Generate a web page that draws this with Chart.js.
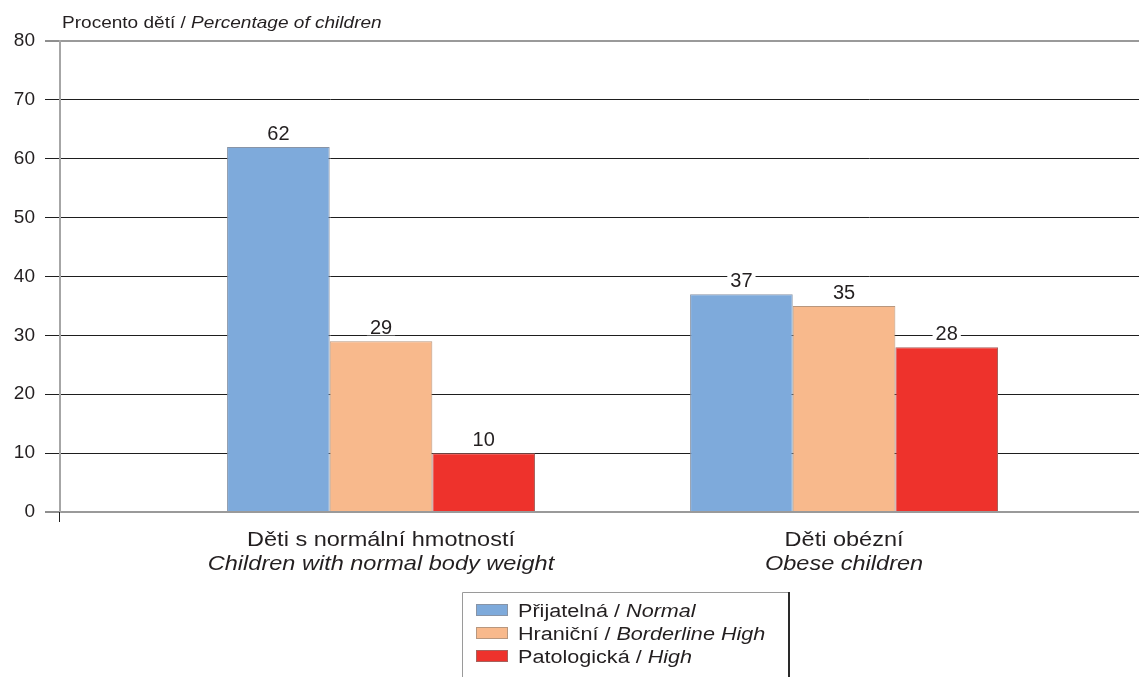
<!DOCTYPE html>
<html>
<head>
<meta charset="utf-8">
<script src="https://cdn.jsdelivr.net/npm/chart.js@4.4.1/dist/chart.umd.min.js"></script>
<style>
  html, body { margin: 0; padding: 0; background: #fff; }
  #wrap { width: 1139px; height: 677px; position: relative; }
</style>
</head>
<body>
<div id="wrap"><canvas id="chart" width="1139" height="677"></canvas></div>
<script>
// Categories (Czech / English)
const categoriesCz = ['Děti s normální hmotností', 'Děti obézní'];
const categoriesEn = ['Children with normal body weight', 'Obese children'];

// Series names (Czech / English)
const seriesCz = ['Přijatelná', 'Hraniční', 'Patologická'];
const seriesEn = ['Normal', 'Borderline High', 'High'];

// Percentage of children in each group
const normalValues = [62, 37];
const borderlineValues = [29, 35];
const highValues = [10, 28];

// Y axis ticks
const yTicks = [0, 10, 20, 30, 40, 50, 60, 70, 80];

const axisTitleCz = 'Procento dětí / ';
const axisTitleEn = 'Percentage of children';

const FONT = '"Liberation Sans", Arial, Helvetica, sans-serif';
const TEXT = '#231f20';
const fills = ['#7eaadb', '#f8b98c', '#ee322c'];
const edges = ['#8894a6', '#b8977e', '#a8615c'];

const seriesValues = [normalValues, borderlineValues, highValues];
const datasets = seriesValues.map((vals, s) => ({
  label: seriesCz[s] + ' / ' + seriesEn[s],
  data: vals.map((v, i) => ({ x: i + 1, y: v })),
  backgroundColor: fills[s],
  borderColor: edges[s],
  borderWidth: 1,
  categoryPercentage: 0.665,
  barPercentage: 1.0
}));

// Draws a regular part followed by an italic part, widened by sx
function drawMixed(ctx, x, y, regular, italic, size, align, sx) {
  ctx.save();
  ctx.font = size + 'px ' + FONT;
  const w1 = ctx.measureText(regular).width;
  ctx.font = 'italic ' + size + 'px ' + FONT;
  const w2 = ctx.measureText(italic).width;
  let start = 0;
  if (align === 'center') start = -(w1 + w2) / 2;
  ctx.translate(x, y);
  ctx.scale(sx, 1);
  ctx.textAlign = 'left';
  ctx.font = size + 'px ' + FONT;
  ctx.fillText(regular, start, 0);
  ctx.font = 'italic ' + size + 'px ' + FONT;
  ctx.fillText(italic, start + w1, 0);
  ctx.restore();
}

// Centered single-style text, widened by sx
function drawWide(ctx, x, y, text, font, sx) {
  ctx.save();
  ctx.translate(x, y);
  ctx.scale(sx, 1);
  ctx.font = font;
  ctx.textAlign = 'center';
  ctx.fillText(text, 0, 0);
  ctx.restore();
}

const decorations = {
  id: 'decorations',
  afterDatasetsDraw(chart) {
    const ctx = chart.ctx;
    const area = chart.chartArea;
    const xScale = chart.scales.x;
    ctx.save();
    ctx.fillStyle = TEXT;
    ctx.textBaseline = 'alphabetic';

    // value labels above bars
    ctx.font = '20px ' + FONT;
    ctx.textAlign = 'center';
    chart.data.datasets.forEach((ds, d) => {
      const meta = chart.getDatasetMeta(d);
      meta.data.forEach((bar, i) => {
        const txt = String(ds.data[i].y);
        const w = ctx.measureText(txt).width;
        const base = bar.y - 7;
        ctx.fillStyle = '#fff';
        ctx.fillRect(bar.x - w / 2 - 3, base - 16, w + 6, 17);
        ctx.fillStyle = TEXT;
        ctx.fillText(txt, bar.x, base);
      });
    });

    // category labels (two lines)
    categoriesCz.forEach((c, i) => {
      const x = xScale.getPixelForValue(i + 1);
      drawWide(ctx, x, area.bottom + 34, c, '21px ' + FONT, 1.12);
      drawWide(ctx, x, area.bottom + 58, categoriesEn[i], 'italic 21px ' + FONT, 1.12);
    });

    // axis title
    drawMixed(ctx, 62, 28, axisTitleCz, axisTitleEn, 17, 'left', 1.12);

    // small tick below the origin
    ctx.strokeStyle = '#1e1e1e';
    ctx.lineWidth = 1;
    ctx.beginPath();
    ctx.moveTo(area.left - 0.5, area.bottom);
    ctx.lineTo(area.left - 0.5, area.bottom + 10);
    ctx.stroke();

    // legend box
    const lx = 462, ly = 592, lr = 789, lb = 677;
    ctx.strokeStyle = '#9a9a9a';
    ctx.lineWidth = 1;
    ctx.beginPath();
    ctx.moveTo(lx + 0.5, lb);
    ctx.lineTo(lx + 0.5, ly + 0.5);
    ctx.lineTo(lr, ly + 0.5);
    ctx.stroke();
    ctx.strokeStyle = '#2a2a2a';
    ctx.lineWidth = 2;
    ctx.beginPath();
    ctx.moveTo(lr, ly);
    ctx.lineTo(lr, lb);
    ctx.stroke();

    seriesCz.forEach((s, i) => {
      const cy = 610 + i * 23;
      ctx.fillStyle = fills[i];
      ctx.fillRect(476, cy - 6, 32, 12);
      ctx.strokeStyle = edges[i];
      ctx.lineWidth = 1;
      ctx.strokeRect(476.5, cy - 5.5, 31, 11);
      ctx.fillStyle = TEXT;
      drawMixed(ctx, 518, cy + 7, s + ' / ', seriesEn[i], 18, 'left', 1.2);
    });
    ctx.restore();
  }
};

new Chart(document.getElementById('chart'), {
  type: 'bar',
  data: { datasets },
  plugins: [decorations],
  options: {
    responsive: false,
    animation: false,
    layout: { padding: { top: 41, bottom: 165, left: 0, right: 0 } },
    plugins: { legend: { display: false }, tooltip: { enabled: false } },
    scales: {
      x: {
        type: 'linear',
        display: false,
        offset: false,
        min: 0.3067,
        max: 2.637,
        afterBuildTicks(scale) {
          scale.ticks = categoriesCz.map((c, i) => ({ value: i + 1 }));
        }
      },
      y: {
        min: 0,
        max: 80,
        afterBuildTicks(scale) {
          scale.ticks = yTicks.map(v => ({ value: v }));
        },
        afterFit(scale) { scale.width = 60; },
        ticks: {
          color: TEXT,
          font: { family: FONT, size: 19 },
          padding: 10
        },
        grid: {
          color: c => (c.tick && (c.tick.value === 0 || c.tick.value === 80)) ? '#9a9a9a' : '#1e1e1e',
          lineWidth: c => (c.tick && (c.tick.value === 0 || c.tick.value === 80)) ? 2 : 1,
          tickColor: '#1e1e1e',
          tickLength: 15,
          tickWidth: 1
        },
        border: { display: true, color: '#a6a6a6', width: 2 }
      }
    }
  }
});
</script>
</body>
</html>
